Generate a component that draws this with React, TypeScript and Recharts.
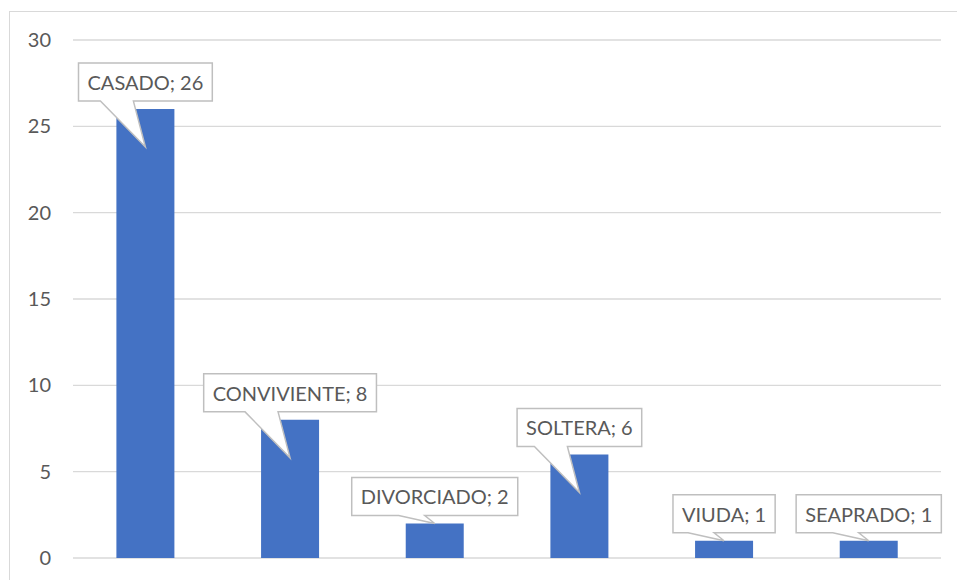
import { BarChart, Bar, XAxis, YAxis, CartesianGrid, LabelList } from 'recharts'

const categories = ['CASADO', 'CONVIVIENTE', 'DIVORCIADO', 'SOLTERA', 'VIUDA', 'SEAPRADO']
const counts = [26, 8, 2, 6, 1, 1]
const yTicks = [0, 5, 10, 15, 20, 25, 30]

const data = categories.map((name, i) => ({ name, value: counts[i] }))

const FONT = 'Lato, "Open Sans", sans-serif'
const FONT_SIZE = 20

let ctx: CanvasRenderingContext2D | null = null
function textWidth(s: string) {
  if (!ctx) ctx = document.createElement('canvas').getContext('2d')
  if (!ctx) return s.length * 11
  ctx.font = `${FONT_SIZE}px Lato`
  return ctx.measureText(s).width
}

// callout box above each bar, with a pointer down into the bar
function Callout(props: any) {
  const { x, y, width, height, index } = props
  const text = `${categories[index]}; ${counts[index]}`
  const cx = x + width / 2
  const w = textWidth(text) + 18
  const h = 38
  const bottom = y - 8
  const top = bottom - h
  const left = cx - w / 2
  const right = cx + w / 2
  const tall = height > 60
  const tipY = tall ? y + 38 : y
  const b1 = tall ? cx - 45 : cx - 36
  const b2 = tall ? cx - 12 : cx - 10
  const d = `M${left},${top} L${right},${top} L${right},${bottom} L${b2},${bottom} L${cx},${tipY} L${b1},${bottom} L${left},${bottom} Z`
  return (
    <g>
      <path d={d} fill="#ffffff" stroke="#bfbfbf" strokeWidth={1.5} />
      <text x={cx} y={top + 27} textAnchor="middle" fontFamily={FONT} fontSize={FONT_SIZE} fill="#595959">
        {text}
      </text>
    </g>
  )
}

export default function App() {
  return (
    <div style={{ position: 'relative', width: 957, height: 580, overflow: 'hidden', background: '#fff' }}>
      <style>{'body{margin:0}'}</style>
      <div style={{ position: 'absolute', left: 9, top: 11, width: 960, height: 600, border: '1px solid #d9d9d9' }} />
      <div style={{ position: 'absolute', left: 0, top: 0 }}>
        <BarChart width={957} height={580} data={data} margin={{ top: 40, right: 16, bottom: 22, left: 0 }} barCategoryGap="30%">
          <CartesianGrid vertical={false} stroke="#d9d9d9" strokeWidth={1.3} />
          <XAxis dataKey="name" hide />
          <YAxis
            width={73}
            domain={[0, 30]}
            ticks={yTicks}
            axisLine={false}
            tickLine={false}
            tickMargin={16}
            tick={{ fontSize: 20, fill: '#595959', fontFamily: FONT }}
          />
          <Bar dataKey="value" fill="#4472c4" isAnimationActive={false}>
            <LabelList dataKey="value" content={<Callout />} />
          </Bar>
        </BarChart>
      </div>
    </div>
  )
}
